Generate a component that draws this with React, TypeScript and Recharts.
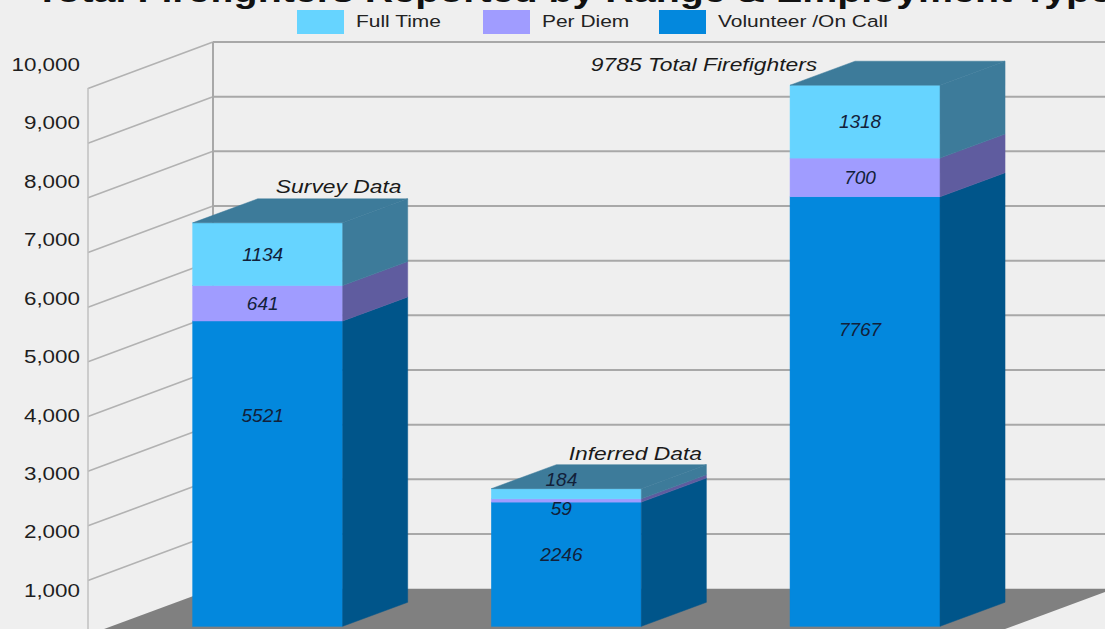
import React from 'react'
import {
  BarChart,
  Bar,
  XAxis,
  YAxis,
  CartesianGrid,
  Legend,
  LabelList,
  Customized,
} from 'recharts'

// values
const title = 'Total Firefighters Reported by Range & Employment Type'
const categories = ['Survey Data', 'Inferred Data', 'Total']
const notes = ['Survey Data', 'Inferred Data', '9785 Total Firefighters']
const seriesNames = ['Full Time', 'Per Diem', 'Volunteer /On Call']
const volunteer = [5521, 2246, 7767]
const perDiem = [641, 59, 700]
const fullTime = [1134, 184, 1318]
const yTicks = [1000, 2000, 3000, 4000, 5000, 6000, 7000, 8000, 9000, 10000]

const data = categories.map((name, i) => ({
  name,
  note: notes[i],
  volunteer: volunteer[i],
  perDiem: perDiem[i],
  fullTime: fullTime[i],
}))

const W = 1105
const H = 629
const TOP = 40
const BOTTOM = 650
const DX = 65
const DY = 24
const WALL_FRONT_X = 88
const WALL_BACK_X = 213
const WALL_DROP = 46.5
const WALL_ZERO = 588.7
const LABEL_RIGHT = 80
const STRETCH = 1.27
const FONT = '"Liberation Sans", Arial, sans-serif'

// each plane of the fake 3D has its own scale: y of zero and px per unit
const planeDomain = (zeroY: number, perUnit: number): [number, number] => [
  (zeroY - BOTTOM) / perUnit,
  (zeroY - TOP) / perUnit,
]
const barDomain = planeDomain(626.3, 0.0553)
const wallDomain = planeDomain(WALL_ZERO, 0.05467)
const labelDomain = planeDomain(648.6, 0.05848)

const TOP_FACE = '#3d7b9a'
const LEGEND_X = [297, 483, 659]
const NOTE_OFFSETS = [
  { dx: 71, dy: -30 },
  { dx: 69, dy: -29 },
  { dx: -161, dy: -14 },
]

function block(side: string, withTop: boolean) {
  return (p: any) => {
    const { x, y, width, height, fill } = p
    if (!height) return <g />
    const r = x + width
    const b = y + height
    return (
      <g>
        <rect x={x} y={y} width={width} height={height} fill={fill} stroke={fill} strokeWidth={0.5} />
        <polygon
          points={`${r},${y} ${r + DX},${y - DY} ${r + DX},${b - DY} ${r},${b}`}
          fill={side}
          stroke={side}
          strokeWidth={0.5}
        />
        {withTop && (
          <polygon
            points={`${x},${y} ${r},${y} ${r + DX},${y - DY} ${x + DX},${y - DY}`}
            fill={TOP_FACE}
            stroke={TOP_FACE}
            strokeWidth={0.5}
          />
        )}
      </g>
    )
  }
}

function segLabel(place: (y: number, h: number) => number) {
  return (p: any) => {
    const vb = p.viewBox ?? p
    const { x, y, width, height } = vb
    return (
      <text
        x={x + width / 2 - 5}
        y={place(y, height)}
        textAnchor="middle"
        dominantBaseline="central"
        fontStyle="italic"
        fontSize={19}
        fontFamily={FONT}
        fill="#12213a"
      >
        {p.value}
      </text>
    )
  }
}

const noteLabel = (p: any) => {
  const vb = p.viewBox ?? p
  const o = NOTE_OFFSETS[p.index] ?? { dx: 0, dy: -30 }
  const cx = vb.x + vb.width / 2 + o.dx
  const by = vb.y + o.dy
  return (
    <text
      transform={`translate(${cx},${by}) scale(${STRETCH},1)`}
      textAnchor="middle"
      fontStyle="italic"
      fontSize={18}
      fontFamily={FONT}
      fill="#1a1a1a"
    >
      {p.value}
    </text>
  )
}

const YTick = (p: any) => (
  <text
    transform={`translate(${LABEL_RIGHT},${p.y}) scale(1.18,1)`}
    textAnchor="end"
    dominantBaseline="central"
    fontSize={19}
    fontFamily={FONT}
    fill="#1e1e1e"
  >
    {Number(p.payload.value).toLocaleString('en-US')}
  </text>
)

const wallLine = (p: any) => {
  const y = p.y1
  const key = p.key ?? `wall-${p.index}`
  // grid may also hand over the plot's top edge, which is not a tick
  if (Math.abs(y - TOP) < 1) return <g key={key} />
  return (
    <g key={key}>
      <line x1={WALL_BACK_X} y1={y} x2={W} y2={y} stroke="#a8a8a8" strokeWidth={2} />
      <line
        x1={WALL_FRONT_X}
        y1={y + WALL_DROP}
        x2={WALL_BACK_X}
        y2={y}
        stroke="#b2b2b2"
        strokeWidth={1.6}
      />
    </g>
  )
}

const Room = () => {
  const k = 0.37
  const low = 645
  const d = low - WALL_ZERO
  return (
    <g>
      <polygon
        points={`${WALL_BACK_X},${WALL_ZERO} ${W + 9},${WALL_ZERO} ${W + 9 - d / k},${low} ${WALL_BACK_X - d / k},${low}`}
        fill="#808080"
      />
      <line x1={WALL_BACK_X} y1={42} x2={WALL_BACK_X} y2={WALL_ZERO} stroke="#a8a8a8" strokeWidth={2} />
      <line x1={WALL_FRONT_X} y1={88} x2={WALL_FRONT_X} y2={H} stroke="#c0c0c0" strokeWidth={1.5} />
      {/* title sits mostly above the visible area, only its lower part shows */}
      <text
        transform={`translate(1112,1.5) scale(${STRETCH},1)`}
        textAnchor="end"
        fontSize={31}
        fontWeight="bold"
        fontFamily={FONT}
        fill="#111"
      >
        {title}
      </text>
    </g>
  )
}

const legendContent = (p: any) => {
  const items = [...(p.payload ?? [])].sort(
    (a: any, b: any) => seriesNames.indexOf(a.value) - seriesNames.indexOf(b.value),
  )
  return (
    <div style={{ position: 'relative', height: 0 }}>
      <svg
        width={W}
        height={40}
        style={{ position: 'absolute', left: 0, top: 0, overflow: 'visible' }}
      >
        {items.map((it: any, i: number) => (
          <g key={it.value}>
            <rect x={LEGEND_X[i]} y={10} width={47} height={24} fill={it.color} />
            <text
              transform={`translate(${LEGEND_X[i] + 59},27) scale(${STRETCH},1)`}
              fontSize={16.5}
              fontFamily={FONT}
              fill="#222"
            >
              {it.value}
            </text>
          </g>
        ))}
      </svg>
    </div>
  )
}

export default function App() {
  return (
    <div
      style={{
        position: 'absolute',
        left: 0,
        top: 0,
        width: W,
        height: H,
        background: '#efefef',
        overflow: 'hidden',
      }}
    >
      <BarChart
        width={W}
        height={H}
        data={data}
        margin={{ top: TOP, right: 90.3, left: 0, bottom: H - BOTTOM }}
      >
        <Customized component={<Room />} />
        <CartesianGrid yAxisId="wall" vertical={false} horizontal={wallLine} />
        <XAxis dataKey="name" hide />
        <YAxis yAxisId="bar" type="number" domain={barDomain} allowDataOverflow hide />
        <YAxis
          yAxisId="wall"
          type="number"
          domain={wallDomain}
          ticks={yTicks}
          allowDataOverflow
          hide
        />
        <YAxis
          yAxisId="lab"
          type="number"
          domain={labelDomain}
          ticks={yTicks}
          interval={0}
          allowDataOverflow
          width={118.7}
          axisLine={false}
          tickLine={false}
          tick={<YTick />}
        />
        <Legend
          verticalAlign="top"
          content={legendContent}
          wrapperStyle={{ top: 0, left: 0, width: W }}
        />
        <Bar
          yAxisId="bar"
          dataKey="volunteer"
          name={seriesNames[2]}
          stackId="s"
          fill="#0388dd"
          barSize={150}
          shape={block('#00558a', false)}
          isAnimationActive={false}
        >
          <LabelList dataKey="volunteer" content={segLabel((y, h) => y + Math.max(0.31 * h, 52))} />
        </Bar>
        <Bar
          yAxisId="bar"
          dataKey="perDiem"
          name={seriesNames[1]}
          stackId="s"
          fill="#a09cff"
          barSize={150}
          shape={block('#5f5c9f', false)}
          isAnimationActive={false}
        >
          <LabelList
            dataKey="perDiem"
            content={segLabel((y, h) => (h < 12 ? y + h + 6 : y + h / 2))}
          />
        </Bar>
        <Bar
          yAxisId="bar"
          dataKey="fullTime"
          name={seriesNames[0]}
          stackId="s"
          fill="#66d4ff"
          barSize={150}
          shape={block('#3d7b9a', true)}
          isAnimationActive={false}
        >
          <LabelList
            dataKey="fullTime"
            content={segLabel((y, h) => (h < 20 ? y - 9 : y + h / 2))}
          />
          <LabelList dataKey="note" content={noteLabel} />
        </Bar>
      </BarChart>
    </div>
  )
}
